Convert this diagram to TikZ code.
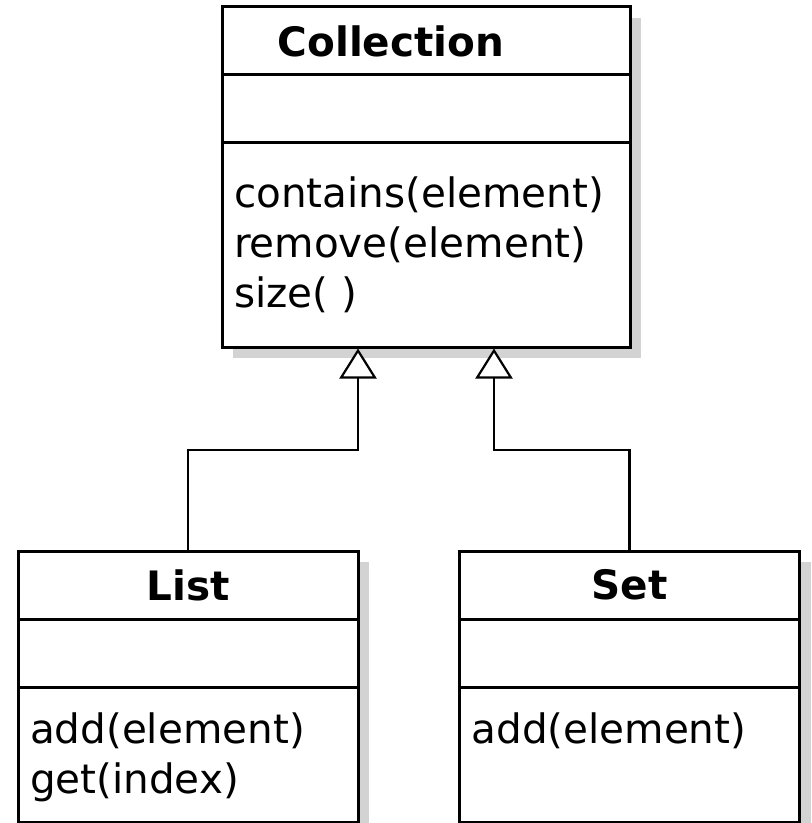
\documentclass[tikz,border=0pt]{standalone}
\usepackage{fontspec}
\setmainfont{DejaVu Sans}
\usetikzlibrary{positioning, shadows, arrows.meta, calc}
\definecolor{shadowgray}{RGB}{211,211,211}

\begin{document}
\begin{tikzpicture}[node distance=0pt,
         font=\fontsize{20.25pt}{25pt}\selectfont,
         uml box/.style={draw, fill=white, line width=1.5pt, inner xsep=6pt, inner ysep=0pt, outer sep=0pt,
           drop shadow={shadow xshift=5.5pt, shadow yshift=-5.5pt, fill=shadowgray, opacity=1}},
         class title/.style={uml box, minimum width=#1, minimum height=34pt,
           font=\fontsize{20.25pt}{25pt}\selectfont\bfseries},
         class part/.style={uml box, text width=#1-12pt, align=left, minimum height=34pt},
         inherit/.style={line width=1.1pt, -{Triangle[open, fill=white, length=15pt, width=18.5pt]}}]

       \useasboundingbox (0,0) rectangle (405.5pt,-411.5pt);

       \node[class title=204pt] (coll) at (213pt,-20.5pt) {\mbox{Collection\hspace{35pt}}}; % title sits left of centre
       \node[class part=204pt] (collattr) [below=of coll] {};
       \node[class part=204pt, text height=32.5pt, text depth=69.5pt] (collops) [below=of collattr]
            {contains(element)\\remove(element)\\size(\ )};

       \node[class title=170pt] (list) at (94pt,-292.5pt) {List};
       \node[class part=170pt] (listattr) [below=of list] {};
       \node[class part=170pt, text height=28pt, text depth=39.5pt] (listops) [below=of listattr]
            {add(element)\\get(index)};

       \node[class title=170pt] (set) at (314.75pt,-292.5pt) {Set};
       \node[class part=170pt] (setattr) [below=of set] {};
       \node[class part=170pt, text height=28pt, text depth=39.5pt] (setops) [below=of setattr]
            {add(element)};

       \coordinate (listtip) at ([yshift=-.75pt]$(collops.south west)!1/3!(collops.south east)$);
       \coordinate (settip) at ([yshift=-.75pt]$(collops.south west)!2/3!(collops.south east)$);

       \foreach \s/\t in {list/listtip, set/settip} {
        \draw[inherit] (\s.north) |- ($(\s.north)!.5!(\t)$) -| (\t);}
      \end{tikzpicture}
\end{document}
